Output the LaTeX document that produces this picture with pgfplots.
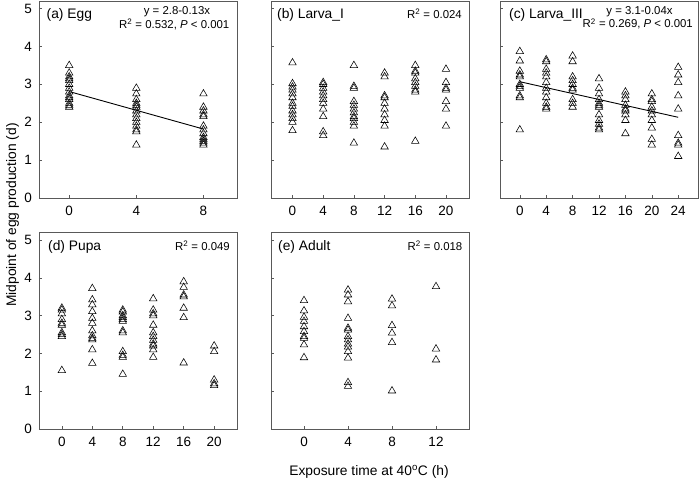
\documentclass[border=0pt]{standalone}
\usepackage{fontspec}
\setmainfont{Liberation Sans}
\usepackage{pgfplots}
\pgfplotsset{compat=1.18}
\pgfplotsset{
  panel/.style={
    scale only axis, width=198pt, height=197pt,
    ymin=0, ymax=5.2, ytick={0,1,2,3,4,5},
    axis line style={black!65, line width=0.6pt},
    tick style={black!65, line width=0.6pt},
    tick align=inside, xtick pos=bottom, ytick pos=left,
    major tick length=3pt,
    /pgf/number format/assume math mode=true,
    tick label style={font=\fontsize{13.5}{16}\selectfont},
    xticklabel style={yshift=-5pt},
    yticklabel style={xshift=-3.5pt},
    clip=false,
  },
  tri/.style={only marks, mark=triangle, mark size=4.3pt, mark options={draw=black, line width=0.55pt}},
  fit/.style={black, line width=0.9pt, no marks},
}
\newcommand{\lab}{\fontsize{13.8}{16}\selectfont}
\newcommand{\ann}{\fontsize{11.4}{13}\selectfont}
\begin{document}
\begin{tikzpicture}
\useasboundingbox (0,0) rectangle (700pt,-481pt);
% (a) Egg
\begin{axis}[panel, at={(39pt,-198pt)}, anchor=south west, xmin=-1.8, xmax=10, xtick={0,4,8}]
\addplot[tri] coordinates {
(0,3.5)(0,3.3)(0,3.2)(0,3.15)(0,3.1)(0,3.0)(0,2.9)(0,2.8)(0,2.7)(0,2.65)(0,2.6)(0,2.5)(0,2.45)(0,2.4)
(4,2.9)(4,2.75)(4,2.6)(4,2.5)(4,2.45)(4,2.4)(4,2.3)(4,2.2)(4,2.1)(4,2.0)(4,1.9)(4,1.8)(4,1.75)(4,1.4)
(8,2.75)(8,2.4)(8,2.3)(8,2.2)(8,2.15)(8,1.9)(8,1.8)(8,1.7)(8,1.6)(8,1.55)(8,1.5)(8,1.45)(8,1.4)
};
\addplot[fit] coordinates {(0,2.81)(8,1.82)};
\end{axis}
% (b) Larva_I
\begin{axis}[panel, at={(271pt,-198pt)}, anchor=south west, xmin=-2.8, xmax=23, xtick={0,4,8,12,16,20}, yticklabels={}]
\addplot[tri] coordinates {
(0,3.57)(0,3.02)(0,2.93)(0,2.85)(0,2.75)(0,2.65)(0,2.5)(0,2.42)(0,2.3)(0,2.2)(0,2.1)(0,2.0)(0,1.78)
(4,3.05)(4,3.0)(4,2.9)(4,2.8)(4,2.7)(4,2.6)(4,2.5)(4,2.35)(4,2.15)(4,1.75)(4,1.65)
(8,3.5)(8,2.95)(8,2.9)(8,2.55)(8,2.45)(8,2.35)(8,2.25)(8,2.15)(8,2.1)(8,2.0)(8,1.9)(8,1.45)
(12,3.3)(12,3.2)(12,2.7)(12,2.65)(12,2.5)(12,2.35)(12,2.2)(12,2.05)(12,1.9)(12,1.35)
(16,3.5)(16,3.35)(16,3.3)(16,3.15)(16,3.05)(16,2.95)(16,2.85)(16,2.8)(16,1.5)
(20,3.4)(20,3.05)(20,2.9)(20,2.85)(20,2.55)(20,2.35)(20,1.9)
};
\end{axis}
% (c) Larva_III
\begin{axis}[panel, at={(500pt,-198pt)}, anchor=south west, xmin=-3, xmax=27, xtick={0,4,8,12,16,20,24}, yticklabels={}]
\addplot[tri] coordinates {
(0,3.87)(0,3.62)(0,3.35)(0,3.25)(0,3.2)(0,3.0)(0,2.95)(0,2.9)(0,2.7)(0,2.65)(0,1.8)
(4,3.65)(4,3.6)(4,3.4)(4,3.3)(4,3.2)(4,3.05)(4,2.9)(4,2.8)(4,2.65)(4,2.5)(4,2.4)(4,2.35)
(8,3.75)(8,3.6)(8,3.2)(8,3.1)(8,3.0)(8,2.9)(8,2.85)(8,2.6)(8,2.5)(8,2.4)
(12,3.15)(12,2.9)(12,2.75)(12,2.6)(12,2.5)(12,2.45)(12,2.4)(12,2.2)(12,2.05)(12,1.95)(12,1.85)(12,1.8)
(16,2.8)(16,2.7)(16,2.6)(16,2.45)(16,2.35)(16,2.3)(16,2.2)(16,2.05)(16,1.7)
(20,2.75)(20,2.6)(20,2.55)(20,2.4)(20,2.3)(20,2.2)(20,2.05)(20,1.85)(20,1.55)(20,1.4)
(24,3.45)(24,3.25)(24,3.05)(24,2.7)(24,2.35)(24,1.65)(24,1.45)(24,1.4)(24,1.1)
};
\addplot[fit] coordinates {(0,3.07)(24,2.13)};
\end{axis}
% (d) Pupa
\begin{axis}[panel, at={(39pt,-429pt)}, anchor=south west, height=196.5pt, xmin=-3, xmax=23, xtick={0,4,8,12,16,20}]
\addplot[tri] coordinates {
(0,3.2)(0,3.15)(0,3.05)(0,2.9)(0,2.8)(0,2.75)(0,2.55)(0,2.5)(0,2.45)(0,1.55)
(4,3.72)(4,3.42)(4,3.29)(4,3.11)(4,2.93)(4,2.8)(4,2.6)(4,2.47)(4,2.4)(4,2.36)(4,2.1)(4,1.74)
(8,3.15)(8,3.1)(8,3.0)(8,2.95)(8,2.9)(8,2.85)(8,2.6)(8,2.55)(8,2.05)(8,1.95)(8,1.9)(8,1.45)
(12,3.45)(12,3.15)(12,3.05)(12,3.0)(12,2.75)(12,2.55)(12,2.45)(12,2.35)(12,2.25)(12,2.2)(12,2.1)(12,1.9)
(16,3.9)(16,3.75)(16,3.55)(16,3.5)(16,3.2)(16,2.95)(16,1.75)
(20,2.2)(20,2.05)(20,1.3)(20,1.2)(20,1.15)
};
\end{axis}
% (e) Adult
\begin{axis}[panel, at={(271pt,-429pt)}, anchor=south west, height=196.5pt, xmin=-3, xmax=15, xtick={0,4,8,12}, yticklabels={}]
\addplot[tri] coordinates {
(0,3.4)(0,3.13)(0,2.96)(0,2.85)(0,2.71)(0,2.58)(0,2.45)(0,2.4)(0,2.23)(0,1.89)
(4,3.68)(4,3.55)(4,3.37)(4,2.93)(4,2.67)(4,2.62)(4,2.45)(4,2.36)(4,2.25)(4,2.17)(4,2.05)(4,1.88)(4,1.23)(4,1.13)
(8,3.44)(8,3.26)(8,2.74)(8,2.54)(8,2.29)(8,1.01)
(12,3.77)(12,2.12)(12,1.83)
};
\end{axis}
% panel labels and annotations
\node[anchor=base west, inner sep=0] at (46.5pt,-18.5pt) {\lab (a) Egg};
\node[anchor=base, inner sep=0] at (177pt,-14.5pt) {\ann y = 2.8-0.13x};
\node[anchor=base east, inner sep=0] at (229.5pt,-28.5pt) {\ann R\textsuperscript{2} = 0.532, \textit{P} < 0.001};
\node[anchor=base west, inner sep=0] at (277pt,-18.5pt) {\lab (b) Larva\_I};
\node[anchor=base east, inner sep=0] at (462pt,-18.5pt) {\ann R\textsuperscript{2} = 0.024};
\node[anchor=base west, inner sep=0] at (509pt,-18.5pt) {\lab (c) Larva\_III};
\node[anchor=base, inner sep=0] at (639.5pt,-15pt) {\ann y = 3.1-0.04x};
\node[anchor=base east, inner sep=0] at (693pt,-28pt) {\ann R\textsuperscript{2} = 0.269, \textit{P} < 0.001};
\node[anchor=base west, inner sep=0] at (48pt,-250pt) {\lab (d) Pupa};
\node[anchor=base east, inner sep=0] at (230pt,-250.5pt) {\ann R\textsuperscript{2} = 0.049};
\node[anchor=base west, inner sep=0] at (278pt,-250pt) {\lab (e) Adult};
\node[anchor=base east, inner sep=0] at (462.5pt,-250.5pt) {\ann R\textsuperscript{2} = 0.018};
% axis titles
\node[rotate=90] at (12.5pt,-215pt) {\lab Midpoint of egg production (d)};
\node at (369pt,-472pt) {\lab Exposure time at 40\textsuperscript{o}C (h)};
\end{tikzpicture}
\end{document}
